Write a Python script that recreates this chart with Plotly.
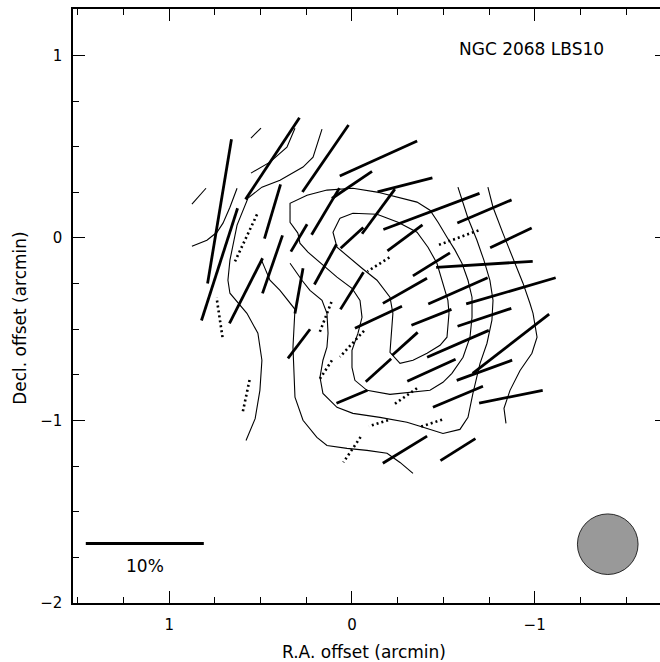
import numpy as np
import plotly.graph_objects as go

# ---- polarization vectors: grid offsets (arcmin), polarization (%), position angle (deg E of N)
sig_ra = [0.725, 0.725, 0.435, 0.145, -0.145, 0.0, 0.145, -0.29, -0.145, 0.0,
          0.435, 0.29, 0.435, 0.58, -0.435, -0.725, -0.87, -0.725, -0.87, -0.725,
          -0.58, -0.87, -0.29, -0.435, -0.29, -0.58, -0.145, -0.435, -0.29, -0.145,
          0.145, 0.0, 0.29, 0.29, -0.435, -0.725, -0.58, -0.87, -0.29, -0.58, 0.0]
sig_dec = [0.145, -0.145, 0.435, 0.435, 0.435, 0.29, 0.145, 0.29, 0.145, 0.0,
           0.145, 0.0, -0.145, -0.29, 0.145, 0.145, 0.0, -0.145, -0.29, -0.435,
           -0.58, -0.58, 0.0, -0.145, -0.29, -0.29, -0.435, -0.435, -0.58, -0.725,
           -0.145, -0.29, -0.29, -0.58, -0.725, -0.725, -0.87, -0.87, -1.16, -1.16, -0.87]
sig_p = [12.4, 10.0, 8.3, 6.9, 7.2, 4.1, 4.6, 4.8, 4.7, 2.6,
         4.8, 2.7, 5.2, 6.2, 8.7, 5.0, 3.9, 8.2, 7.9, 4.8,
         5.7, 8.2, 3.7, 3.7, 4.3, 5.5, 4.4, 3.65, 2.9, 2.9,
         3.9, 3.7, 3.9, 3.1, 4.5, 5.0, 4.6, 5.5, 4.4, 3.5, 2.85]
sig_pa = [170.6, 162.2, 146.6, 145.5, 114.4, 124.0, 149.2, 104.3, 143.7, 132.4,
          163.5, 149.4, 161.0, 153.1, 110.6, 113.1, 115.5, 93.6, 106.3, 108.4,
          113.5, 127.8, 126.6, 121.9, 119.6, 113.8, 115.1, 111.8, 132.0, 132.0,
          151.2, 148.1, 169.9, 142.8, 114.6, 110.0, 112.8, 101.5, 121.5, 122.2, 112.8]

# lower-significance vectors (dotted)
low_ra = [0.58, 0.725, 0.58, 0.145, 0.0, 0.145, -0.145, -0.58, -0.29, -0.435, -0.145, 0.0]
low_dec = [0.0, -0.435, -0.87, -0.435, -0.58, -0.725, -0.145, 0.0, -0.87, -1.015, -1.015, -1.16]
low_p = [4.4, 3.4, 2.9, 2.8, 3.0, 2.0, 2.2, 3.7, 2.5, 1.9, 1.7, 2.6]
low_pa = [154.9, 8.5, 168.0, 158.8, 137.3, 147.0, 122.5, 110.1, 125.3, 108.4, 107.5, 145.8]

# ---- intensity contours (arcmin offsets)
contours = [
    ([0.876, 0.799], [0.185, 0.272]),
    ([0.553, 0.498], [0.547, 0.601]),
    ([0.876, 0.794, 0.739, 0.706, 0.668, 0.629],
     [-0.046, -0.013, 0.031, 0.081, 0.168, 0.272]),
    ([0.553, 0.449, 0.356, 0.312], [0.355, 0.415, 0.497, 0.601]),
    ([0.164, 0.213, 0.268, 0.323, 0.394, 0.493, 0.569, 0.629, 0.668, 0.679, 0.668,
      0.575, 0.515, 0.493, 0.504, 0.530, 0.580],
     [0.596, 0.442, 0.388, 0.355, 0.316, 0.278, 0.218, 0.070, -0.122, -0.232, -0.303,
      -0.413, -0.522, -0.670, -0.835, -0.990, -1.110]),
    ([0.066, -0.005, -0.137, -0.252, -0.356, -0.416, -0.465, -0.498, -0.525, -0.531,
      -0.520, -0.482, -0.411, -0.334, -0.263, -0.208, -0.219, -0.224, -0.208, -0.137,
      -0.055, 0.011, 0.082, 0.104, 0.066],
     [0.108, 0.135, 0.130, 0.086, 0.031, -0.051, -0.139, -0.248, -0.342, -0.413,
      -0.544, -0.588, -0.632, -0.670, -0.687, -0.627, -0.506, -0.413, -0.325, -0.232,
      -0.166, -0.111, -0.051, 0.031, 0.108]),
    ([0.296, 0.339, 0.339, 0.246, 0.137, -0.005, -0.137, -0.246, -0.356, -0.427,
      -0.471, -0.520, -0.564, -0.602, -0.635, -0.657, -0.657, -0.646, -0.608, -0.547,
      -0.498, -0.427, -0.317, -0.208, -0.082, -0.016, 0.0, 0.0, -0.033, -0.055,
      -0.044, 0.0, 0.082, 0.137, 0.186, 0.241, 0.285, 0.296],
     [0.026, 0.086, 0.190, 0.234, 0.262, 0.272, 0.251, 0.223, 0.196, 0.152,
      0.086, 0.004, -0.067, -0.139, -0.232, -0.325, -0.435, -0.544, -0.654, -0.742,
      -0.791, -0.835, -0.846, -0.857, -0.835, -0.780, -0.709, -0.616, -0.522, -0.435,
      -0.342, -0.276, -0.215, -0.166, -0.122, -0.078, -0.029, 0.026]),
    ([0.339, 0.274, 0.230, 0.164, 0.137, 0.131, 0.137, 0.159, 0.175, 0.159, 0.082,
      -0.005, -0.153, -0.301, -0.372, -0.498, -0.591, -0.635, -0.662, -0.701, -0.739,
      -0.766, -0.772, -0.755, -0.722, -0.684, -0.635, -0.580],
     [-0.139, -0.232, -0.287, -0.342, -0.413, -0.522, -0.599, -0.670, -0.764, -0.852,
      -0.928, -0.961, -0.983, -1.010, -1.032, -1.071, -1.049, -0.983, -0.852, -0.687,
      -0.577, -0.451, -0.342, -0.232, -0.122, -0.013, 0.108, 0.278]),
    ([0.493, 0.449, 0.394, 0.312, 0.323, 0.312, 0.268, 0.192, 0.137, 0.027,
      -0.082, -0.192, -0.263, -0.334],
     [-0.127, -0.232, -0.287, -0.391, -0.599, -0.873, -0.999, -1.093, -1.137, -1.153,
      -1.164, -1.180, -1.230, -1.290]),
    ([-0.744, -0.772, -0.826, -0.881, -0.936, -0.974, -0.991, -1.013, -0.985, -0.920,
      -0.865, -0.832, -0.843],
     [0.278, 0.168, 0.026, -0.106, -0.248, -0.358, -0.413, -0.544, -0.632, -0.726,
      -0.835, -0.933, -1.016]),
]

P_SCALE = 0.0646          # arcmin per percent of polarization
BAR_P = 10                 # scale-bar value (%)
BAR_RA, BAR_DEC = 1.134, -1.674
BEAM_RA, BEAM_DEC, BEAM_R = -1.40, -1.678, 0.166


def segments(ra, dec, p, pa):
    xs, ys = [], []
    for x0, y0, pp, a in zip(ra, dec, p, pa):
        h = 0.5 * pp * P_SCALE
        t = np.radians(a)
        dx, dy = h * np.sin(t), h * np.cos(t)
        xs += [x0 - dx, x0 + dx, None]
        ys += [y0 - dy, y0 + dy, None]
    return xs, ys


fig = go.Figure()

for cx, cy in contours:
    fig.add_trace(go.Scatter(x=cx, y=cy, mode="lines",
                             line=dict(color="black", width=1.1),
                             hoverinfo="skip"))

sx, sy = segments(sig_ra, sig_dec, sig_p, sig_pa)
fig.add_trace(go.Scatter(x=sx, y=sy, mode="lines",
                         line=dict(color="black", width=2.8), hoverinfo="skip"))
lx, ly = segments(low_ra, low_dec, low_p, low_pa)
fig.add_trace(go.Scatter(x=lx, y=ly, mode="lines",
                         line=dict(color="black", width=2.6, dash="2px,3px"),
                         hoverinfo="skip"))

# scale bar
half_bar = 0.5 * BAR_P * P_SCALE
fig.add_trace(go.Scatter(x=[BAR_RA + half_bar, BAR_RA - half_bar], y=[BAR_DEC, BAR_DEC],
                         mode="lines", line=dict(color="black", width=2.8),
                         hoverinfo="skip"))
fig.add_annotation(x=BAR_RA, y=BAR_DEC - 0.125, xref="x", yref="y",
                   xanchor="center", yanchor="middle",
                   text=f"{BAR_P}%", showarrow=False,
                   font=dict(family="DejaVu Sans", size=17, color="black"))

# beam
fig.add_shape(type="circle", xref="x", yref="y",
              x0=BEAM_RA - BEAM_R, x1=BEAM_RA + BEAM_R,
              y0=BEAM_DEC - BEAM_R, y1=BEAM_DEC + BEAM_R,
              fillcolor="#999999", line=dict(color="black", width=0.8))

# invisible trace to carry the right-hand tick axis
fig.add_trace(go.Scatter(x=[0], y=[0], yaxis="y2", mode="markers",
                         marker=dict(opacity=0), hoverinfo="skip"))

tickfont = dict(family="DejaVu Sans", size=15, color="black")
fig.update_layout(
    width=660, height=662,
    margin=dict(l=73, r=0, t=9, b=59),
    paper_bgcolor="white", plot_bgcolor="white",
    showlegend=False,
    xaxis=dict(range=[1.527, -1.686], showline=True, linecolor="black", linewidth=1.5,
               mirror="ticks", ticks="inside", ticklen=12, tickwidth=1.2,
               tickcolor="black", tickvals=[1, 0, -1], tickfont=tickfont,
               ticklabelstandoff=7,
               minor=dict(dtick=0.25, tick0=0, ticks="inside", ticklen=6,
                          tickwidth=1.2, tickcolor="black"),
               showgrid=False, zeroline=False),
    yaxis=dict(range=[-2.0, 1.254], showline=True, linecolor="black", linewidth=1.5,
               ticks="inside", ticklen=12, tickwidth=1.2, tickcolor="black",
               tickvals=[1, 0, -1, -2], tickfont=tickfont, ticklabelstandoff=6,
               minor=dict(dtick=0.25, tick0=0, ticks="inside", ticklen=6,
                          tickwidth=1.2, tickcolor="black"),
               showgrid=False, zeroline=False),
    yaxis2=dict(range=[-2.0, 1.254], overlaying="y", side="right", anchor="x",
                showline=False, ticks="inside", ticklen=5, tickwidth=1.2,
                tickcolor="black", tickvals=[1, 0, -1, -2], showticklabels=False,
                showgrid=False, zeroline=False),
)

labfont = dict(family="DejaVu Sans", size=17, color="black")
fig.add_annotation(x=-0.068, y=-0.0825, xref="x", yref="paper",
                   xanchor="center", yanchor="middle",
                   text="R.A. offset (arcmin)", showarrow=False, font=labfont)
fig.add_annotation(x=-0.0903, y=0.48, xref="paper", yref="paper",
                   xanchor="center", yanchor="middle",
                   text="Decl. offset (arcmin)", showarrow=False, font=labfont,
                   textangle=-90)
fig.add_annotation(x=-0.985, y=1.035, xref="x", yref="y",
                   xanchor="center", yanchor="middle",
                   text="NGC\u00a02068\u00a0LBS10", showarrow=False, font=labfont)

fig.write_html("out.html")
